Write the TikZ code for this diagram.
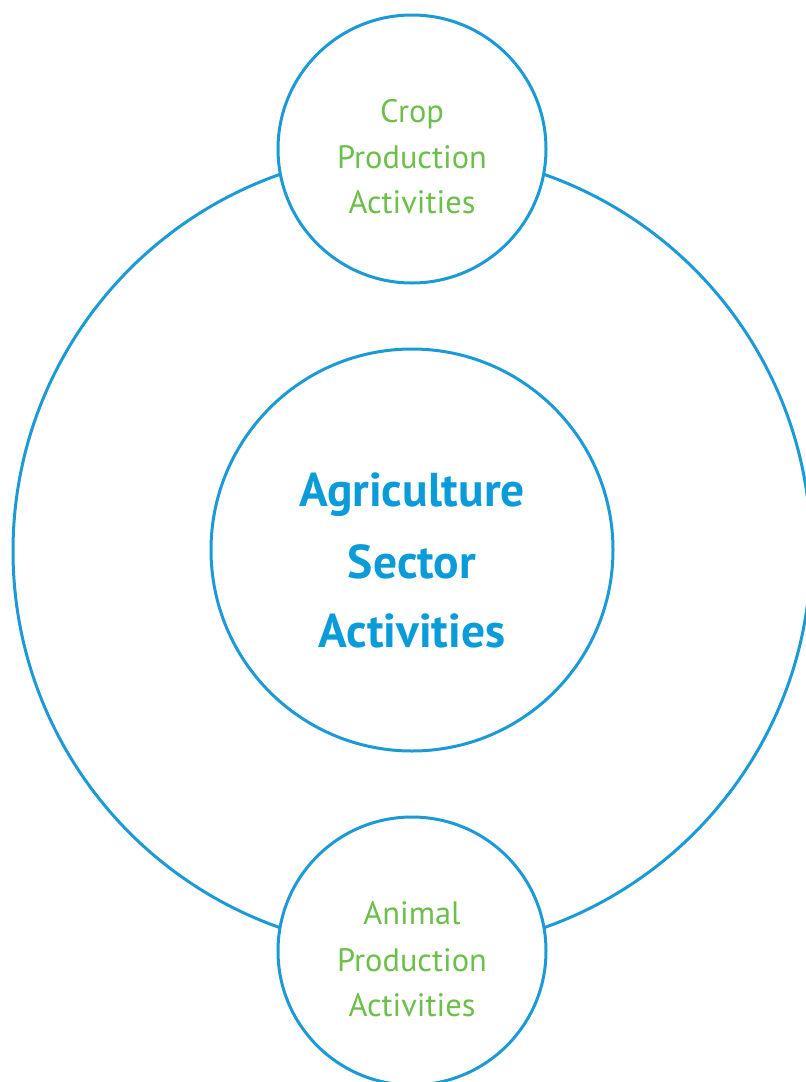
\documentclass[tikz,border=0pt]{standalone}
\usepackage{fontspec}
\setmainfont{PT Sans}
\definecolor{ringblue}{HTML}{1B9AD6}
\definecolor{titleblue}{HTML}{0A9BD9}
\definecolor{labelgreen}{HTML}{6CBF4A}
\begin{document}
\begin{tikzpicture}[x=1pt,y=-1pt,
  ring/.style={circle,draw=ringblue,line width=3pt,inner sep=0pt,outer sep=0pt},
  smalltxt/.style={anchor=base,text=labelgreen,font=\fontsize{32.4}{38}\selectfont,inner sep=0pt},
  bigtxt/.style={anchor=base,text=titleblue,font=\fontsize{47.5}{56}\selectfont\bfseries,inner sep=0pt}]
\useasboundingbox (0,0) rectangle (806,1082);
\clip (0,0) rectangle (806,1082);
\node[ring,minimum size=798pt] (outer) at (412,551) {};
\node[ring,minimum size=402pt] (inner) at (412,550) {};
\node[ring,fill=white,minimum size=268pt] (top) at (412,149) {};
\node[ring,fill=white,minimum size=268pt] (bottom) at (412,951) {};
\node[bigtxt] (c1) at (412,506) {Agriculture};
\node[bigtxt] (c2) at (412,578) {Sector};
\node[bigtxt] (c3) at (412,647) {Activities};
\node[smalltxt] (t1) at (412,122) {Crop};
\node[smalltxt] (t2) at (412,168) {Production};
\node[smalltxt] (t3) at (412,213) {Activities};
\node[smalltxt] (b1) at (412,924) {Animal};
\node[smalltxt] (b2) at (412,971) {Production};
\node[smalltxt] (b3) at (412,1016) {Activities};
\end{tikzpicture}
\end{document}
